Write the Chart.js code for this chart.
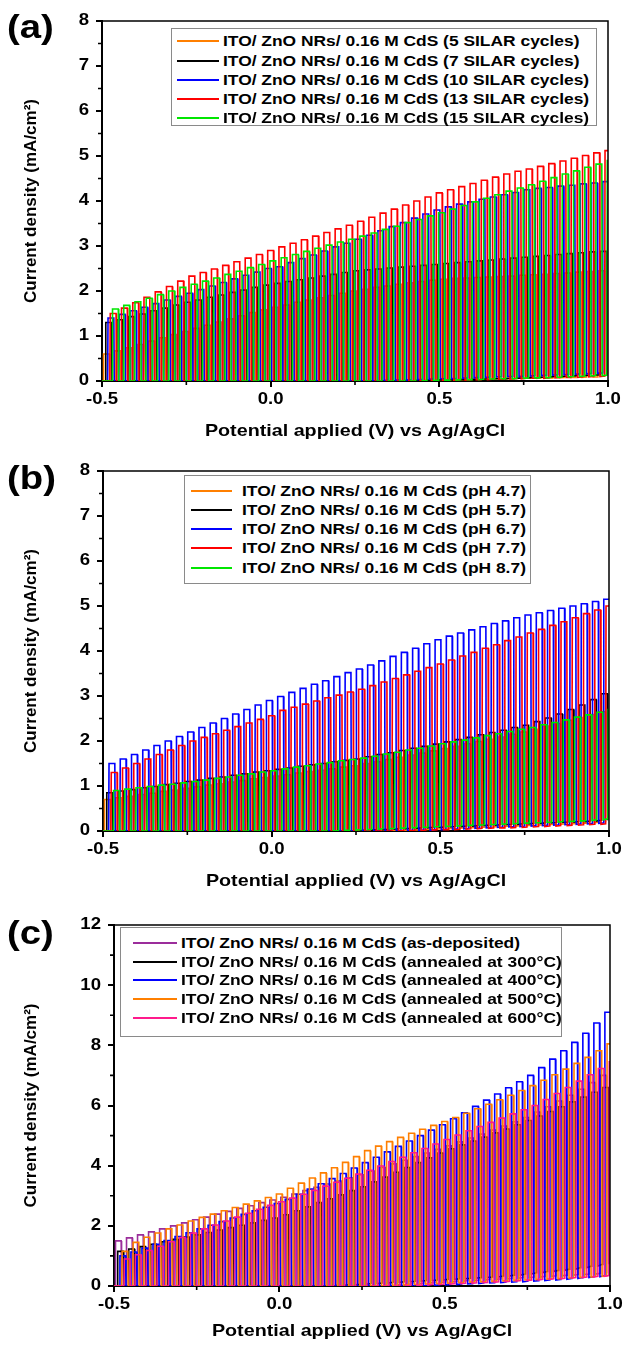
<!DOCTYPE html>
<html>
<head>
<meta charset="utf-8">
<script src="https://cdn.jsdelivr.net/npm/chart.js@4.4.1/dist/chart.umd.min.js"></script>
<style>
html,body{margin:0;padding:0;background:#fff;}
body{width:625px;height:1345px;position:relative;overflow:hidden;font-family:"Liberation Sans",Arial,sans-serif;color:#000;}
.panel{position:absolute;left:0;width:625px;}
.plabel{position:absolute;left:7px;font-weight:bold;font-size:33px;line-height:36px;transform:scaleX(1.16);transform-origin:left center;}
.legend{position:absolute;border:1.5px solid #8a8a8a;background:#fff;box-sizing:border-box;z-index:5;}
</style>
</head>
<body>
<div class="panel" id="wa"><canvas id="ca"></canvas></div>
<div class="panel" id="wb"><canvas id="cb"></canvas></div>
<div class="panel" id="wc"><canvas id="cc"></canvas></div>
<script>
// ---------------- DATA ----------------
// light-on current density (mA/cm2) for each chopping cycle, scan -0.5 -> 1.0 V
const labelsA = [
  'ITO/ ZnO NRs/ 0.16 M CdS (5 SILAR cycles)',
  'ITO/ ZnO NRs/ 0.16 M CdS (7 SILAR cycles)',
  'ITO/ ZnO NRs/ 0.16 M CdS (10 SILAR cycles)',
  'ITO/ ZnO NRs/ 0.16 M CdS (13 SILAR cycles)',
  'ITO/ ZnO NRs/ 0.16 M CdS (15 SILAR cycles)'
];
const orangeOnA = [0.60,0.67,0.74,0.81,0.89,0.96,1.03,1.10,1.17,1.24,1.31,1.38,1.45,1.52,1.58,1.64,1.69,1.75,1.80,1.85,1.90,1.95,2.00,2.04,2.08,2.11,2.15,2.18,2.21,2.24,2.26,2.28,2.29,2.30,2.31,2.32,2.33,2.35,2.36,2.37,2.39,2.40,2.42,2.43,2.45];
const blackOnA  = [1.30,1.36,1.43,1.49,1.56,1.62,1.69,1.75,1.80,1.86,1.91,1.97,2.02,2.08,2.13,2.17,2.21,2.25,2.29,2.33,2.37,2.41,2.45,2.47,2.49,2.51,2.53,2.55,2.57,2.59,2.61,2.63,2.65,2.67,2.69,2.71,2.73,2.75,2.77,2.79,2.81,2.83,2.85,2.87,2.88];
const blueOnA   = [1.40,1.48,1.56,1.64,1.72,1.80,1.88,1.95,2.03,2.11,2.19,2.27,2.35,2.42,2.50,2.54,2.63,2.72,2.80,2.89,2.98,3.06,3.15,3.24,3.34,3.43,3.52,3.62,3.71,3.80,3.87,3.93,3.98,4.04,4.09,4.14,4.19,4.25,4.28,4.30,4.33,4.35,4.38,4.40,4.43];
const redOnA    = [1.50,1.62,1.74,1.86,1.98,2.10,2.22,2.33,2.41,2.49,2.57,2.65,2.73,2.81,2.90,2.98,3.06,3.14,3.22,3.30,3.38,3.46,3.55,3.64,3.73,3.82,3.91,4.00,4.09,4.18,4.25,4.32,4.39,4.46,4.53,4.60,4.66,4.71,4.77,4.83,4.89,4.95,5.01,5.07,5.12];
const greenOnA  = [1.60,1.68,1.76,1.84,1.92,2.00,2.08,2.15,2.22,2.29,2.37,2.44,2.52,2.59,2.67,2.74,2.81,2.88,2.95,3.02,3.09,3.15,3.22,3.29,3.37,3.44,3.52,3.59,3.67,3.74,3.82,3.90,3.98,4.06,4.14,4.22,4.29,4.36,4.44,4.52,4.60,4.67,4.75,4.82,4.90];
// dark current for each cycle
const orangeOffA = [0,0,0,0,0,0,0,0,0,0,0,0,0,0,0,0,0,0,0,0,0,0,0,0,0,0,0,0,0.01,0.02,0.02,0.03,0.03,0.04,0.04,0.05,0.05,0.06,0.06,0.07,0.07,0.08,0.08,0.09,0.09];
const blackOffA  = [0,0,0,0,0,0,0,0,0,0,0,0,0,0,0,0,0,0,0,0,0,0,0,0,0,0,0.01,0.01,0.02,0.02,0.03,0.03,0.04,0.04,0.05,0.05,0.06,0.07,0.08,0.09,0.10,0.11,0.12,0.13,0.14];
const blueOffA   = [0,0,0,0,0,0,0,0,0,0,0,0,0,0,0,0,0,0,0,0,0,0,0,0,0.01,0.02,0.02,0.03,0.04,0.05,0.05,0.06,0.07,0.08,0.09,0.10,0.10,0.11,0.12,0.13,0.14,0.15,0.16,0.17,0.18];
const redOffA    = [0,0,0,0,0,0,0,0,0,0,0,0,0,0,0,0,0,0,0,0,0,0,0,0,0,0,0,0,0.01,0.01,0.02,0.02,0.03,0.03,0.04,0.04,0.05,0.06,0.06,0.07,0.08,0.08,0.09,0.10,0.11];
const greenOffA  = [0,0,0,0,0,0,0,0,0,0,0,0,0,0,0,0,0,0,0,0,0,0,0,0,0,0,0,0,0.01,0.02,0.02,0.03,0.03,0.04,0.05,0.05,0.06,0.07,0.07,0.08,0.09,0.10,0.11,0.12,0.13];

const labelsB = [
  'ITO/ ZnO NRs/ 0.16 M CdS (pH 4.7)',
  'ITO/ ZnO NRs/ 0.16 M CdS (pH 5.7)',
  'ITO/ ZnO NRs/ 0.16 M CdS (pH 6.7)',
  'ITO/ ZnO NRs/ 0.16 M CdS (pH 7.7)',
  'ITO/ ZnO NRs/ 0.16 M CdS (pH 8.7)'
];
const orangeOnB = [0.70,0.74,0.77,0.81,0.84,0.88,0.91,0.95,0.98,1.02,1.05,1.09,1.12,1.16,1.19,1.22,1.25,1.29,1.32,1.35,1.38,1.42,1.45,1.50,1.54,1.59,1.64,1.69,1.73,1.78,1.83,1.88,1.94,1.99,2.04,2.09,2.15,2.20,2.26,2.33,2.39,2.46,2.52,2.59,2.65];
const blackOnB  = [0.85,0.89,0.92,0.96,0.99,1.03,1.06,1.10,1.13,1.17,1.20,1.24,1.27,1.31,1.34,1.37,1.40,1.44,1.47,1.50,1.54,1.57,1.60,1.65,1.70,1.74,1.79,1.84,1.88,1.93,1.98,2.03,2.08,2.14,2.19,2.24,2.30,2.35,2.43,2.51,2.60,2.70,2.80,2.92,3.05];
const blueOnB   = [1.50,1.60,1.70,1.80,1.90,2.00,2.10,2.20,2.30,2.40,2.50,2.60,2.70,2.80,2.90,2.99,3.08,3.17,3.26,3.34,3.43,3.52,3.60,3.69,3.78,3.88,3.97,4.06,4.16,4.25,4.33,4.40,4.47,4.54,4.61,4.67,4.74,4.80,4.85,4.90,4.95,5.00,5.05,5.10,5.15];
const redOnB    = [1.30,1.40,1.50,1.60,1.70,1.80,1.90,2.00,2.08,2.16,2.24,2.32,2.40,2.48,2.56,2.68,2.75,2.82,2.89,2.96,3.02,3.09,3.15,3.23,3.31,3.39,3.47,3.55,3.63,3.71,3.80,3.89,3.97,4.06,4.14,4.23,4.31,4.40,4.48,4.57,4.65,4.74,4.83,4.91,5.00];
const greenOnB  = [0.90,0.93,0.96,0.99,1.02,1.04,1.07,1.10,1.13,1.17,1.20,1.24,1.27,1.31,1.34,1.38,1.42,1.45,1.49,1.52,1.56,1.59,1.62,1.66,1.71,1.75,1.80,1.84,1.89,1.94,1.98,2.02,2.07,2.12,2.16,2.21,2.26,2.30,2.36,2.41,2.47,2.53,2.58,2.64,2.70];
const orangeOffB = [0,0,0,0,0,0,0,0,0,0,0,0,0,0,0,0,0,0,0,0,0,0,0,0,0,0,0.01,0.02,0.03,0.04,0.05,0.06,0.07,0.08,0.09,0.10,0.11,0.12,0.13,0.14,0.15,0.16,0.17,0.18,0.20];
const blackOffB  = [0,0,0,0,0,0,0,0,0,0,0,0,0,0,0,0,0,0,0,0,0,0,0.01,0.02,0.03,0.04,0.05,0.06,0.07,0.08,0.09,0.10,0.11,0.12,0.13,0.14,0.15,0.16,0.17,0.18,0.19,0.20,0.21,0.22,0.24];
const blueOffB   = [0,0,0,0,0,0,0,0,0,0,0,0,0,0,0,0,0,0,0,0,0,0,0,0,0,0,0.01,0.02,0.02,0.03,0.04,0.05,0.06,0.07,0.08,0.09,0.10,0.11,0.12,0.13,0.14,0.15,0.16,0.17,0.18];
const redOffB    = [0,0,0,0,0,0,0,0,0,0,0,0,0,0,0,0,0,0,0,0,0,0,0,0,0,0,0.01,0.01,0.02,0.03,0.03,0.04,0.05,0.06,0.07,0.07,0.08,0.09,0.10,0.11,0.12,0.13,0.14,0.15,0.16];
const greenOffB  = [0,0,0,0,0,0,0,0,0,0,0,0,0,0,0,0,0,0,0,0,0.01,0.02,0.03,0.04,0.05,0.06,0.07,0.08,0.09,0.10,0.11,0.12,0.13,0.14,0.15,0.16,0.17,0.18,0.19,0.20,0.21,0.22,0.23,0.25,0.27];

const labelsC = [
  'ITO/ ZnO NRs/ 0.16 M CdS (as-deposited)',
  'ITO/ ZnO NRs/ 0.16 M CdS (annealed at 300\u00B0C)',
  'ITO/ ZnO NRs/ 0.16 M CdS (annealed at 400\u00B0C)',
  'ITO/ ZnO NRs/ 0.16 M CdS (annealed at 500\u00B0C)',
  'ITO/ ZnO NRs/ 0.16 M CdS (annealed at 600\u00B0C)'
];
const purpleOnC = [1.50,1.60,1.70,1.80,1.90,2.00,2.10,2.20,2.29,2.39,2.48,2.58,2.67,2.77,2.86,2.95,3.06,3.17,3.28,3.39,3.49,3.60,3.70,3.82,3.94,4.06,4.18,4.30,4.42,4.54,4.66,4.79,4.92,5.05,5.18,5.32,5.46,5.60,5.78,5.96,6.15,6.34,6.54,6.76,7.00];
const blackOnC  = [1.15,1.23,1.31,1.39,1.47,1.55,1.63,1.70,1.78,1.86,1.94,2.02,2.10,2.18,2.26,2.37,2.50,2.63,2.77,2.90,3.03,3.17,3.30,3.46,3.62,3.78,3.94,4.10,4.26,4.42,4.56,4.69,4.82,4.95,5.09,5.22,5.36,5.50,5.65,5.80,5.96,6.12,6.28,6.44,6.60];
const blueOnC   = [1.00,1.13,1.26,1.39,1.51,1.64,1.77,1.90,2.02,2.14,2.26,2.38,2.50,2.62,2.74,2.88,3.05,3.22,3.40,3.57,3.74,3.92,4.10,4.28,4.46,4.64,4.82,5.00,5.18,5.36,5.56,5.76,5.97,6.18,6.38,6.59,6.79,7.00,7.26,7.54,7.82,8.10,8.40,8.74,9.10];
const orangeOnC = [1.15,1.45,1.62,1.76,1.90,2.03,2.16,2.28,2.39,2.50,2.61,2.72,2.83,2.94,3.06,3.25,3.42,3.59,3.76,3.93,4.11,4.30,4.50,4.65,4.80,4.94,5.08,5.21,5.34,5.47,5.60,5.74,5.89,6.04,6.19,6.34,6.50,6.66,6.84,7.02,7.21,7.40,7.60,7.82,8.05];
const pinkOnC   = [0.90,1.04,1.18,1.32,1.47,1.61,1.76,1.90,2.03,2.16,2.29,2.42,2.55,2.68,2.80,2.92,3.05,3.18,3.32,3.45,3.58,3.72,3.85,3.99,4.14,4.28,4.43,4.57,4.72,4.87,5.02,5.16,5.30,5.44,5.58,5.72,5.86,6.00,6.20,6.40,6.60,6.81,7.02,7.23,7.45];
const purpleOffC = [0,0,0,0,0,0,0,0,0,0,0,0,0,0,0,0,0,0,0,0,0,0,0,0,0.02,0.04,0.06,0.08,0.10,0.12,0.14,0.16,0.18,0.20,0.22,0.24,0.26,0.28,0.30,0.32,0.34,0.36,0.38,0.40,0.42];
const blackOffC  = [0,0,0,0,0,0,0,0,0,0,0,0,0,0,0,0,0,0,0,0,0.02,0.04,0.06,0.08,0.10,0.12,0.14,0.16,0.18,0.20,0.22,0.24,0.26,0.28,0.30,0.33,0.36,0.40,0.44,0.48,0.52,0.56,0.61,0.66,0.72];
const blueOffC   = [0,0,0,0,0,0,0,0,0,0,0,0,0,0,0,0,0,0,0,0,0,0,0,0,0,0,0,0,0.02,0.04,0.05,0.07,0.08,0.10,0.11,0.13,0.14,0.16,0.18,0.20,0.22,0.25,0.28,0.31,0.35];
const orangeOffC = [0,0,0,0,0,0,0,0,0,0,0,0,0,0,0,0,0,0,0,0,0,0,0,0,0.02,0.03,0.05,0.06,0.08,0.09,0.11,0.12,0.14,0.15,0.17,0.18,0.20,0.21,0.23,0.24,0.26,0.28,0.30,0.32,0.34];
const pinkOffC   = [0,0,0,0,0,0,0,0,0,0,0,0,0,0,0,0,0,0,0,0,0,0,0,0,0,0,0.02,0.03,0.05,0.06,0.08,0.09,0.11,0.12,0.14,0.16,0.18,0.20,0.22,0.24,0.26,0.28,0.30,0.32,0.35];

// axes / ticks
const potentialRange = [-0.5, 1.0];
const xMinorTicks = [-0.25, 0.25, 0.75];
const yMinorTicksAB = [0.5, 1.5, 2.5, 3.5, 4.5, 5.5, 6.5, 7.5];
const yMinorTicksC = [1, 3, 5, 7, 9, 11];
const chopPhase = [0.1, 0.3, 0.5, 0.7, 0.9];   // light chopping offsets (fraction of a cycle)
const chopDuty = 0.55;
const colorsAB = ['#FF7F00', '#000000', '#0000FF', '#FF0000', '#00E600'];
const colorsC  = ['#9B2D9B', '#000000', '#0000FF', '#FF7F00', '#FF1A8C'];

// ---------------- RENDERING ----------------
const TEXT_STRETCH = 1.16;
const origFill = CanvasRenderingContext2D.prototype.fillText;
CanvasRenderingContext2D.prototype.fillText = function (t, x, y, mw) {
  const m = this.getTransform();
  if (Math.abs(m.b) > 1e-6 || Math.abs(m.c) > 1e-6) return origFill.call(this, t, x, y, mw);
  this.save(); this.translate(x, y); this.scale(TEXT_STRETCH, 1);
  if (mw === undefined) origFill.call(this, t, 0, 0); else origFill.call(this, t, 0, 0, mw);
  this.restore();
};

Chart.defaults.font.family = '"Liberation Sans", Arial, sans-serif';
Chart.defaults.font.weight = 'bold';
Chart.defaults.color = '#000';

function chopped(on, off, phase) {
  const n = on.length;
  const P = (potentialRange[1] - potentialRange[0]) / n;
  const e0 = 0.0012;
  const pts = [{x: potentialRange[0], y: off[0]}];
  for (let i = 0; i < n; i++) {
    const s = potentialRange[0] + (i + phase) * P;
    const e = s + chopDuty * P;
    pts.push({x: s, y: off[i]}, {x: s + e0, y: on[i]}, {x: e, y: on[i]}, {x: e + e0, y: off[i]});
  }
  return pts;
}

const framePlugin = {
  id: 'frame',
  afterDraw(chart, args, opts) {
    const {ctx, chartArea: a, scales} = chart;
    const x = scales.x, y = scales.y;
    ctx.save();
    ctx.strokeStyle = '#000';
    ctx.lineWidth = 1.5;
    ctx.beginPath();
    ctx.moveTo(a.left, a.top); ctx.lineTo(a.right, a.top); ctx.lineTo(a.right, a.bottom);
    ctx.stroke();
    ctx.lineWidth = 1.6;
    ctx.beginPath();
    opts.minorX.forEach(v => { const px = x.getPixelForValue(v); ctx.moveTo(px, a.bottom); ctx.lineTo(px, a.bottom + 4); });
    opts.minorY.forEach(v => { const py = y.getPixelForValue(v); ctx.moveTo(a.left, py); ctx.lineTo(a.left - 4, py); });
    ctx.stroke();
    ctx.restore();
  }
};

function makePanel(id, wrapId, g, series, colors, labels, yMax, yStep, minorY) {
  const wrap = document.getElementById(wrapId);
  wrap.style.top = g.top + 'px';
  wrap.style.height = g.height + 'px';
  const datasets = series.map((s, i) => ({
    label: labels[i],
    data: chopped(s.on, s.off, chopPhase[i]),
    borderColor: colors[i],
    backgroundColor: colors[i],
    borderWidth: 1.6,
    pointRadius: 0,
    tension: 0,
    fill: false,
    order: -i
  }));
  new Chart(document.getElementById(id), {
    type: 'line',
    data: {datasets},
    plugins: [framePlugin],
    options: {
      responsive: true,
      maintainAspectRatio: false,
      animation: false,
      events: [],
      layout: {padding: {top: g.padTop, right: g.padRight, left: 0, bottom: 0}},
      plugins: {legend: {display: false}, tooltip: {enabled: false}, frame: {minorX: xMinorTicks, minorY: minorY}},
      scales: {
        x: {
          type: 'linear', min: potentialRange[0], max: potentialRange[1],
          afterFit: s => { s.height = g.xHeight; },
          border: {display: true, color: '#000', width: 2},
          grid: {display: true, drawOnChartArea: false, drawTicks: true, tickLength: 6, color: '#000', lineWidth: 2},
          ticks: {stepSize: 0.5, padding: 3, maxRotation: 0, autoSkip: false, font: {size: 16, weight: 'bold'},
                  callback: v => v.toFixed(1)},
          title: {display: true, text: 'Potential applied (V) vs Ag/AgCl', font: {size: 17, weight: 'bold'}, padding: {top: 0, bottom: 3}}
        },
        y: {
          type: 'linear', min: 0, max: yMax,
          afterFit: s => { s.width = g.yWidth; },
          border: {display: true, color: '#000', width: 2},
          grid: {display: true, drawOnChartArea: false, drawTicks: true, tickLength: 6, color: '#000', lineWidth: 2},
          ticks: {stepSize: yStep, padding: 7, font: {size: 16, weight: 'bold'}, callback: v => String(v)},
          title: {display: true, text: 'Current density (mA/cm\u00B2)', font: {size: 17, weight: 'bold'}, padding: {top: 21, bottom: 0}}
        }
      }
    }
  });
  // panel label
  const pl = document.createElement('div');
  pl.className = 'plabel';
  pl.textContent = g.tag;
  pl.style.top = (g.tagY - 18) + 'px';
  document.body.appendChild(pl);
  // legend
  const L = g.legend;
  const box = document.createElement('div');
  box.className = 'legend';
  Object.assign(box.style, {left: L.left + 'px', top: L.top + 'px', width: (L.right - L.left) + 'px', height: (L.bottom - L.top) + 'px'});
  document.body.appendChild(box);
  labels.forEach((t, i) => {
    const cy = L.rows[i] - L.top - 1.5;
    const ln = document.createElement('div');
    Object.assign(ln.style, {position: 'absolute', left: (L.lineL - L.left - 1.5) + 'px', width: (L.lineR - L.lineL) + 'px',
      top: (cy - 1) + 'px', height: '2px', background: colors[i]});
    box.appendChild(ln);
    const sp = document.createElement('div');
    sp.textContent = t;
    Object.assign(sp.style, {position: 'absolute', left: (L.textL - L.left - 1.5) + 'px', top: (cy - 10) + 'px', lineHeight: '20px',
      fontSize: '15px', fontWeight: 'bold', whiteSpace: 'nowrap', transform: 'scaleX(' + TEXT_STRETCH + ')', transformOrigin: 'left center'});
    box.appendChild(sp);
  });
}

const geomA = {top: 0, height: 445, padTop: 21, padRight: 17, yWidth: 102, xHeight: 64, tag: '(a)', tagY: 27,
  legend: {left: 171, top: 28, right: 597, bottom: 126, rows: [41, 61, 80, 99, 118], lineL: 177, lineR: 219, textL: 223}};
const geomB = {top: 450, height: 445, padTop: 21, padRight: 16, yWidth: 103, xHeight: 64, tag: '(b)', tagY: 478,
  legend: {left: 184, top: 475, right: 531, bottom: 584, rows: [491, 510, 529, 548, 568], lineL: 191, lineR: 232, textL: 242}};
const geomC = {top: 904, height: 441, padTop: 21, padRight: 15, yWidth: 114, xHeight: 59, tag: '(c)', tagY: 933,
  legend: {left: 120, top: 927, right: 562, bottom: 1037, rows: [943, 962, 980, 999, 1018], lineL: 133, lineR: 177, textL: 181}};

makePanel('ca', 'wa', geomA, [
  {on: orangeOnA, off: orangeOffA}, {on: blackOnA, off: blackOffA}, {on: blueOnA, off: blueOffA},
  {on: redOnA, off: redOffA}, {on: greenOnA, off: greenOffA}
], colorsAB, labelsA, 8, 1, yMinorTicksAB);

makePanel('cb', 'wb', geomB, [
  {on: orangeOnB, off: orangeOffB}, {on: blackOnB, off: blackOffB}, {on: blueOnB, off: blueOffB},
  {on: redOnB, off: redOffB}, {on: greenOnB, off: greenOffB}
], colorsAB, labelsB, 8, 1, yMinorTicksAB);

makePanel('cc', 'wc', geomC, [
  {on: purpleOnC, off: purpleOffC}, {on: blackOnC, off: blackOffC}, {on: blueOnC, off: blueOffC},
  {on: orangeOnC, off: orangeOffC}, {on: pinkOnC, off: pinkOffC}
], colorsC, labelsC, 12, 2, yMinorTicksC);
</script>
</body>
</html>
